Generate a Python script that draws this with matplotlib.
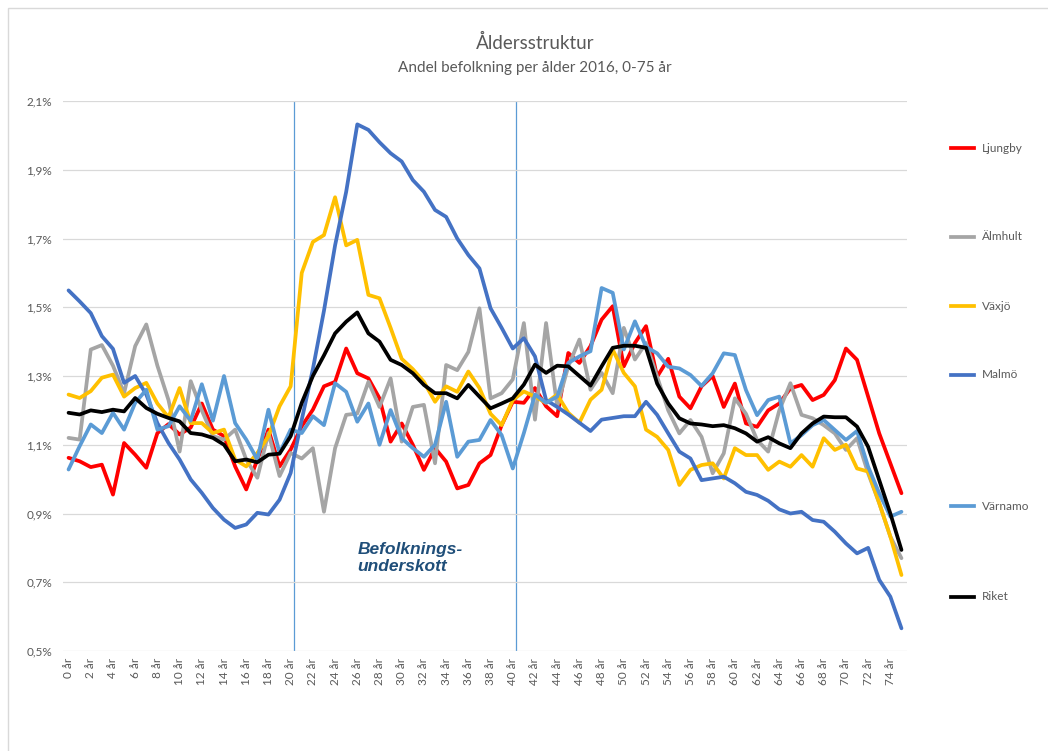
import numpy as np
import matplotlib
matplotlib.use("Agg")
import matplotlib.pyplot as plt
from matplotlib.lines import Line2D
from matplotlib.patches import Rectangle

# ålder 0-75
ages = list(range(76))
tick_ages = ages[::2]
tick_labels = [f"{a} år" for a in tick_ages]

ljungby = [1.062, 1.052, 1.035, 1.042, 0.955, 1.105, 1.071, 1.033, 1.134, 1.160,
           1.130, 1.150, 1.220, 1.144, 1.125, 1.037, 0.970, 1.057, 1.144, 1.037,
           1.086, 1.154, 1.202, 1.270, 1.283, 1.380, 1.308, 1.293, 1.235, 1.109,
           1.162, 1.100, 1.027, 1.090, 1.051, 0.973, 0.983, 1.046, 1.070, 1.157,
           1.225, 1.222, 1.265, 1.212, 1.183, 1.367, 1.338, 1.387, 1.464, 1.503,
           1.328, 1.396, 1.445, 1.298, 1.350, 1.240, 1.206, 1.270, 1.300, 1.210,
           1.278, 1.162, 1.152, 1.200, 1.220, 1.264, 1.274, 1.230, 1.245, 1.288,
           1.380, 1.347, 1.240, 1.133, 1.046, 0.959]
almhult = [1.120, 1.115, 1.377, 1.390, 1.330, 1.250, 1.387, 1.450, 1.330, 1.230,
           1.080, 1.285, 1.200, 1.125, 1.115, 1.144, 1.057, 1.004, 1.134, 1.009,
           1.076, 1.060, 1.090, 0.905, 1.090, 1.187, 1.191, 1.283, 1.210, 1.293,
           1.109, 1.210, 1.216, 1.046, 1.332, 1.317, 1.370, 1.497, 1.235, 1.250,
           1.290, 1.454, 1.173, 1.454, 1.212, 1.328, 1.406, 1.260, 1.309, 1.250,
           1.440, 1.348, 1.396, 1.298, 1.200, 1.133, 1.172, 1.123, 1.017, 1.075,
           1.235, 1.190, 1.114, 1.080, 1.200, 1.279, 1.187, 1.177, 1.157, 1.133,
           1.085, 1.119, 1.017, 0.930, 0.833, 0.770]
vaxjo = [1.246, 1.236, 1.256, 1.295, 1.304, 1.240, 1.265, 1.280, 1.220, 1.180,
         1.265, 1.163, 1.163, 1.134, 1.144, 1.057, 1.037, 1.076, 1.125, 1.212,
         1.270, 1.600, 1.690, 1.710, 1.820, 1.680, 1.696, 1.536, 1.526, 1.440,
         1.350, 1.320, 1.283, 1.225, 1.270, 1.254, 1.313, 1.265, 1.190, 1.157,
         1.230, 1.255, 1.240, 1.222, 1.246, 1.193, 1.164, 1.231, 1.260, 1.377,
         1.309, 1.270, 1.144, 1.123, 1.085, 0.983, 1.027, 1.041, 1.046, 1.002,
         1.090, 1.070, 1.070, 1.027, 1.051, 1.036, 1.070, 1.036, 1.119, 1.085,
         1.100, 1.031, 1.022, 0.930, 0.833, 0.721]
malmo = [1.549, 1.517, 1.483, 1.416, 1.379, 1.280, 1.300, 1.246, 1.163, 1.105,
         1.057, 0.999, 0.960, 0.916, 0.882, 0.858, 0.868, 0.902, 0.897, 0.940,
         1.018, 1.173, 1.320, 1.490, 1.680, 1.836, 2.032, 2.016, 1.980, 1.948,
         1.924, 1.870, 1.836, 1.783, 1.763, 1.700, 1.652, 1.613, 1.497, 1.440,
         1.380, 1.410, 1.357, 1.230, 1.210, 1.188, 1.164, 1.140, 1.173, 1.178,
         1.183, 1.183, 1.225, 1.187, 1.133, 1.080, 1.060, 0.997, 1.002, 1.007,
         0.988, 0.963, 0.954, 0.937, 0.912, 0.900, 0.905, 0.881, 0.876, 0.847,
         0.813, 0.784, 0.800, 0.707, 0.658, 0.566]
varnamo = [1.028, 1.096, 1.159, 1.134, 1.193, 1.144, 1.222, 1.260, 1.144, 1.154,
           1.212, 1.170, 1.276, 1.170, 1.300, 1.163, 1.115, 1.057, 1.202, 1.076,
           1.144, 1.134, 1.183, 1.157, 1.279, 1.254, 1.167, 1.220, 1.100, 1.201,
           1.119, 1.090, 1.065, 1.100, 1.225, 1.065, 1.109, 1.114, 1.172, 1.128,
           1.031, 1.134, 1.246, 1.222, 1.240, 1.338, 1.357, 1.372, 1.556, 1.542,
           1.377, 1.459, 1.385, 1.366, 1.327, 1.322, 1.303, 1.271, 1.308, 1.366,
           1.361, 1.259, 1.186, 1.230, 1.240, 1.104, 1.128, 1.157, 1.172, 1.143,
           1.114, 1.140, 1.036, 0.959, 0.891, 0.905]
riket = [1.193, 1.188, 1.200, 1.195, 1.202, 1.197, 1.236, 1.207, 1.190, 1.178,
         1.168, 1.134, 1.130, 1.120, 1.100, 1.052, 1.057, 1.049, 1.071, 1.074,
         1.125, 1.222, 1.300, 1.360, 1.424, 1.458, 1.485, 1.424, 1.400, 1.347,
         1.332, 1.308, 1.274, 1.250, 1.250, 1.235, 1.274, 1.240, 1.206, 1.220,
         1.235, 1.275, 1.333, 1.309, 1.330, 1.328, 1.300, 1.272, 1.328, 1.382,
         1.388, 1.388, 1.382, 1.278, 1.220, 1.177, 1.162, 1.159, 1.154, 1.157,
         1.148, 1.133, 1.109, 1.122, 1.104, 1.090, 1.133, 1.162, 1.182, 1.180,
         1.180, 1.153, 1.094, 0.997, 0.900, 0.794]

names = ["Ljungby", "Älmhult", "Växjö", "Malmö", "Värnamo", "Riket"]
series = [ljungby, almhult, vaxjo, malmo, varnamo, riket]
colors = ["#FF0000", "#A5A5A5", "#FFC000", "#4472C4", "#5B9BD5", "#000000"]
legend_y = [148, 237, 306, 375, 506, 597]   # pixel rows of the legend entries

gray_txt = "#595959"
plt.rcParams['font.family'] = ['Lato', 'DejaVu Sans']

W, H = 1048, 751
fig = plt.figure(figsize=(W / 100, H / 100), dpi=100)
ax = fig.add_axes([63 / W, 1 - 651 / H, (907 - 63) / W, (651 - 101) / H])

# chart border
fig.patches.append(Rectangle((8 / W, -0.05), 1.1, 1 - 8 / H + 0.05, transform=fig.transFigure,
                             fill=False, edgecolor="#D9D9D9", linewidth=1))

for vals, col in zip(series, colors):
    ax.plot(ages, vals, color=col, linewidth=2.7, solid_joinstyle="round", solid_capstyle="round")

# gränser för underskottsområdet
ax.axvline(20.3, color="#5B9BD5", linewidth=0.9, zorder=0.5)
ax.axvline(40.3, color="#5B9BD5", linewidth=0.9, zorder=0.5)

ax.set_xlim(-0.5, 75.5)
ax.set_ylim(0.5, 2.1)
yt = np.arange(0.5, 2.11, 0.2)
ax.set_yticks(yt)
ax.set_yticklabels([f"{v:.1f}%".replace(".", ",") for v in yt])
ax.set_xticks(tick_ages)
ax.set_xticklabels(tick_labels, rotation=90)
ax.grid(axis="y", color="#D9D9D9", linewidth=0.9, zorder=0)
ax.set_axisbelow(True)
for s in ax.spines.values():
    s.set_visible(False)
ax.tick_params(length=0, colors=gray_txt, labelsize=8.5)
ax.tick_params(axis="y", pad=8)
ax.tick_params(axis="x", pad=5)

ax.text(26.0, 0.77, "Befolknings-\nunderskott", fontsize=12.5, fontweight="bold", fontstyle="italic",
        color="#1F4E79", family=["Liberation Sans", "DejaVu Sans"], va="center", ha="left",
        linespacing=1.2)

fig.text(535 / W, 1 - 43 / H, "Åldersstruktur", ha="center", va="center", fontsize=13.5, color=gray_txt)
fig.text(535 / W, 1 - 68 / H, "Andel befolkning per ålder 2016, 0-75 år", ha="center", va="center",
         fontsize=11, color=gray_txt)

# legend
for name, col, y in zip(names, colors, legend_y):
    fy = 1 - y / H
    fig.lines.append(Line2D([951 / W, 974 / W], [fy, fy], transform=fig.transFigure,
                            color=col, linewidth=2.7))
    fig.text(982 / W, fy, name, ha="left", va="center", fontsize=8.5, color=gray_txt)

fig.savefig("out.png", dpi=100)
